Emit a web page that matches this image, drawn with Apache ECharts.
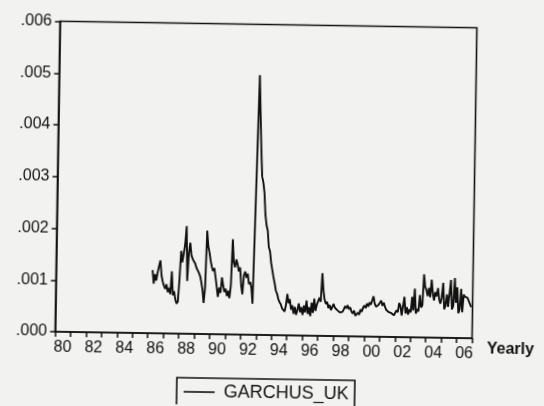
<!DOCTYPE html>
<html>
<head>
<meta charset="utf-8">
<script src="https://cdn.jsdelivr.net/npm/echarts@6/dist/echarts.min.js"></script>
<style>
  html, body { margin: 0; padding: 0; background: #f2f2f0; overflow: hidden; }
  #chart { width: 544px; height: 406px; transform: rotate(0.9deg); transform-origin: 266px 180px; }
</style>
</head>
<body>
<div id="chart"></div>
<script>
// Monthly GARCH conditional variance, UK series, April 1986 to December 2006
const seriesName = 'GARCHUS_UK';
const firstYear = 1986;
const firstMonth = 4;

// Year tick labels along the bottom axis (1980 to 2006)
const yearTicks = ['80','81','82','83','84','85','86','87','88','89','90','91','92','93',
                   '94','95','96','97','98','99','00','01','02','03','04','05','06'];

const garchus_uk = [
  // 1986 (Apr-Dec)
  0.00122, 0.00096, 0.00114, 0.00102, 0.00118, 0.00130, 0.00141, 0.00112, 0.00100,
  // 1987
  0.00092, 0.00086, 0.00095, 0.00080, 0.00088, 0.00076, 0.00120, 0.00074, 0.00082, 0.00066, 0.00058, 0.00062,
  // 1988
  0.00105, 0.00160, 0.00138, 0.00155, 0.00172, 0.00208, 0.00102, 0.00155, 0.00176, 0.00152, 0.00145, 0.00140,
  // 1989
  0.00136, 0.00128, 0.00130, 0.00118, 0.00112, 0.00100, 0.00085, 0.00060, 0.00090, 0.00200, 0.00170, 0.00158,
  // 1990
  0.00142, 0.00130, 0.00122, 0.00128, 0.00110, 0.00092, 0.00072, 0.00090, 0.00080, 0.00110, 0.00095, 0.00082,
  // 1991
  0.00088, 0.00074, 0.00084, 0.00070, 0.00095, 0.00184, 0.00140, 0.00130, 0.00145, 0.00136, 0.00122, 0.00130,
  // 1992
  0.00095, 0.00078, 0.00115, 0.00122, 0.00110, 0.00118, 0.00098, 0.00102, 0.00090, 0.00060, 0.00205, 0.00355,
  // 1993
  0.00502, 0.00430, 0.00360, 0.00306, 0.00295, 0.00275, 0.00232, 0.00212, 0.00202, 0.00170, 0.00162, 0.00140,
  // 1994
  0.00126, 0.00112, 0.00100, 0.00086, 0.00080, 0.00070, 0.00064, 0.00060, 0.00052, 0.00055, 0.00046, 0.00058,
  // 1995
  0.00080, 0.00062, 0.00070, 0.00050, 0.00058, 0.00042, 0.00055, 0.00040, 0.00050, 0.00062, 0.00045, 0.00055,
  // 1996
  0.00040, 0.00058, 0.00045, 0.00068, 0.00042, 0.00055, 0.00038, 0.00064, 0.00044, 0.00072, 0.00048, 0.00060,
  // 1997
  0.00058, 0.00074, 0.00066, 0.00121, 0.00088, 0.00070, 0.00062, 0.00066, 0.00054, 0.00060, 0.00050, 0.00056,
  // 1998
  0.00062, 0.00055, 0.00052, 0.00050, 0.00048, 0.00046, 0.00045, 0.00047, 0.00052, 0.00058, 0.00054, 0.00060,
  // 1999
  0.00052, 0.00056, 0.00048, 0.00044, 0.00050, 0.00040, 0.00038, 0.00046, 0.00042, 0.00052, 0.00048, 0.00056,
  // 2000
  0.00060, 0.00055, 0.00064, 0.00058, 0.00066, 0.00062, 0.00070, 0.00078, 0.00064, 0.00058, 0.00055, 0.00062,
  // 2001
  0.00064, 0.00070, 0.00060, 0.00066, 0.00058, 0.00052, 0.00050, 0.00048, 0.00050, 0.00046, 0.00044, 0.00042,
  // 2002
  0.00045, 0.00052, 0.00048, 0.00066, 0.00060, 0.00042, 0.00040, 0.00078, 0.00046, 0.00058, 0.00044, 0.00054,
  // 2003
  0.00048, 0.00078, 0.00052, 0.00094, 0.00046, 0.00055, 0.00050, 0.00082, 0.00058, 0.00062, 0.00122, 0.00098,
  // 2004
  0.00092, 0.00080, 0.00096, 0.00078, 0.00112, 0.00086, 0.00072, 0.00088, 0.00080, 0.00096, 0.00074, 0.00066,
  // 2005
  0.00078, 0.00106, 0.00055, 0.00062, 0.00084, 0.00060, 0.00058, 0.00112, 0.00055, 0.00062, 0.00116, 0.00068,
  // 2006
  0.00098, 0.00048, 0.00056, 0.00095, 0.00050, 0.00084, 0.00080, 0.00082, 0.00078, 0.00072, 0.00066, 0.00060
];

// Pair each observation with its date as a decimal year
const points = garchus_uk.map((v, i) => [firstYear + (firstMonth - 1 + i) / 12, v]);

const ink = '#111111';
const font = 'Liberation Sans, Arial, sans-serif';

const chart = echarts.init(document.getElementById('chart'));
chart.setOption({
  animation: false,
  backgroundColor: '#f2f2f0',
  grid: {
    left: 57.5, top: 24.5, width: 417, height: 310.5,
    show: true, borderColor: ink, borderWidth: 1.6, backgroundColor: 'transparent'
  },
  legend: {
    left: 180, top: 379,
    padding: [5, 6, 24, 7],
    borderColor: ink, borderWidth: 1.6,
    itemWidth: 31, itemHeight: 1.6,
    data: [{ name: seriesName, icon: 'rect' }],
    textStyle: { color: ink, fontFamily: font, fontSize: 18, padding: [0, 0, 0, 4] }
  },
  xAxis: [
    {
      type: 'category',
      data: yearTicks,
      boundaryGap: true,
      position: 'bottom',
      axisLine: { lineStyle: { color: ink, width: 1.6 } },
      axisTick: { show: true, interval: 0, length: 5, lineStyle: { color: ink, width: 1.5 } },
      axisLabel: { interval: 1, margin: 8, color: ink, fontFamily: font, fontSize: 16 },
      splitLine: { show: false },
      name: 'Yearly',
      nameLocation: 'end',
      nameGap: 15,
      nameTextStyle: { color: ink, fontFamily: font, fontSize: 16, fontWeight: 'bold',
                       verticalAlign: 'top', padding: [3, 0, 0, 0] }
    },
    {
      type: 'value',
      min: 1980, max: 2007,
      show: false
    }
  ],
  yAxis: {
    type: 'value',
    min: 0, max: 0.006, interval: 0.001,
    axisLine: { show: true, lineStyle: { color: ink, width: 1.6 } },
    axisTick: { show: true, length: 5, lineStyle: { color: ink, width: 1.5 } },
    axisLabel: { margin: 8, color: ink, fontFamily: font, fontSize: 16,
                 formatter: v => v.toFixed(3).replace(/^0/, '') },
    splitLine: { show: false }
  },
  series: [{
    name: seriesName,
    type: 'line',
    xAxisIndex: 1,
    data: points,
    symbol: 'none',
    lineStyle: { color: ink, width: 1.9 },
    itemStyle: { color: ink }
  }]
});
</script>
</body>
</html>
